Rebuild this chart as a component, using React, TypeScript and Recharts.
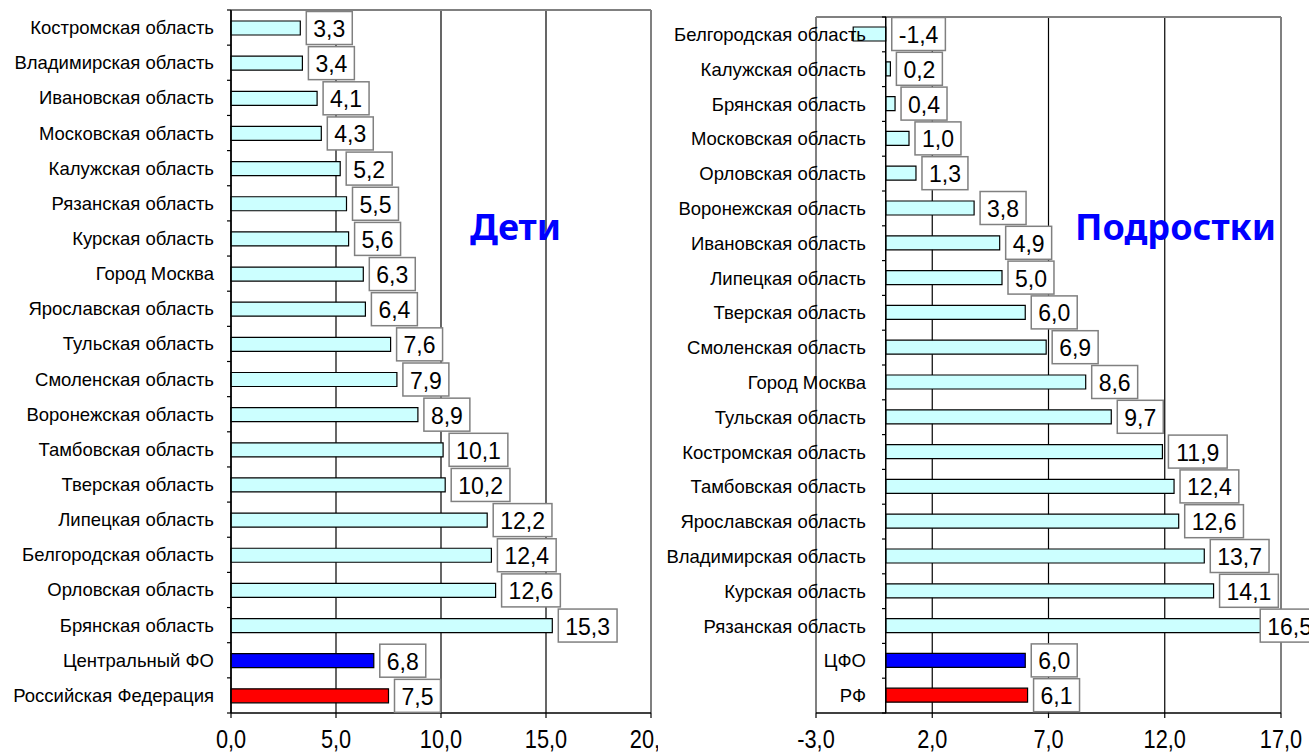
import { Bar, BarChart, CartesianGrid, Cell, LabelList, ReferenceLine, XAxis, YAxis } from "recharts";

const childRegions = [
  "Костромская область",
  "Владимирская область",
  "Ивановская область",
  "Московская область",
  "Калужская область",
  "Рязанская область",
  "Курская область",
  "Город Москва",
  "Ярославская область",
  "Тульская область",
  "Смоленская область",
  "Воронежская область",
  "Тамбовская область",
  "Тверская область",
  "Липецкая область",
  "Белгородская область",
  "Орловская область",
  "Брянская область",
  "Центральный ФО",
  "Российская Федерация",
];
const childValues = [3.3, 3.4, 4.1, 4.3, 5.2, 5.5, 5.6, 6.3, 6.4, 7.6, 7.9, 8.9, 10.1, 10.2, 12.2, 12.4, 12.6, 15.3, 6.8, 7.5];
const childTicks = [0, 5, 10, 15, 20];

const teenRegions = [
  "Белгородская область",
  "Калужская область",
  "Брянская область",
  "Московская область",
  "Орловская область",
  "Воронежская область",
  "Ивановская область",
  "Липецкая область",
  "Тверская область",
  "Смоленская область",
  "Город Москва",
  "Тульская область",
  "Костромская область",
  "Тамбовская область",
  "Ярославская область",
  "Владимирская область",
  "Курская область",
  "Рязанская область",
  "ЦФО",
  "РФ",
];
const teenValues = [-1.4, 0.2, 0.4, 1.0, 1.3, 3.8, 4.9, 5.0, 6.0, 6.9, 8.6, 9.7, 11.9, 12.4, 12.6, 13.7, 14.1, 16.5, 6.0, 6.1];
const teenTicks = [-3, 2, 7, 12, 17];

const FONT = "'Liberation Sans', Arial, sans-serif";
const fmt = (v: number) => v.toFixed(1).replace(".", ",");

function textWidth(s: string, size: number) {
  let w = 0;
  for (const ch of s) w += ch === "," ? 0.278 : ch === "-" ? 0.333 : 0.556;
  return w * size;
}

function ValueBox(props: any) {
  const { x, y, width, height, value, chartWidth } = props;
  const right = Math.max(x, x + width);
  const text = fmt(Number(value));
  const w = textWidth(text, 23) + 14;
  // like Excel, keep the label box from running far past the chart edge
  const bx = Math.min(right + 6, chartWidth - w + 10);
  const cy = y + height / 2;
  return (
    <g>
      <rect x={bx} y={cy - 16.5} width={w} height={33} fill="#fff" stroke="#808080" strokeWidth={1.5} />
      <text x={bx + w / 2} y={cy + 1} textAnchor="middle" dominantBaseline="central" fontSize={23} fontFamily={FONT} fill="#000">
        {text}
      </text>
    </g>
  );
}

function CategoryTick(props: any) {
  const { x, y, payload, index, shift, gap, band } = props;
  const ax = x + shift;
  return (
    <g>
      <text x={ax - gap} y={y} textAnchor="end" dominantBaseline="central" fontSize={18.5} fontFamily={FONT} fill="#000">
        {payload.value}
      </text>
      <line x1={ax - 4} x2={ax} y1={y + band / 2} y2={y + band / 2} stroke="#000" strokeWidth={1.2} />
      {index === 0 && <line x1={ax - 4} x2={ax} y1={y - band / 2} y2={y - band / 2} stroke="#000" strokeWidth={1.2} />}
    </g>
  );
}

function NumberTick(props: any) {
  const { x, y, payload } = props;
  return (
    <text
      transform={`translate(${x},${y + 30}) scale(0.87,1)`}
      textAnchor="middle"
      fontSize={25}
      fontFamily={FONT}
      fill="#000"
    >
      {fmt(Number(payload.value))}
    </text>
  );
}

type PanelProps = {
  regions: string[];
  values: number[];
  ticks: number[];
  width: number;
  height: number;
  top: number;
  right: number;
  yWidth: number;
  shift: number;
  gap: number;
  leftBorder: boolean;
};

function Panel({ regions, values, ticks, width, height, top, right, yWidth, shift, gap, leftBorder }: PanelProps) {
  const data = regions.map((name, i) => ({ name, value: values[i] }));
  const xHeight = 42;
  const band = (height - top - xHeight) / regions.length;
  const n = data.length;
  return (
    <BarChart width={width} height={height} data={data} layout="vertical" margin={{ top, right, bottom: 0, left: 0 }} barSize={14}>
      <CartesianGrid horizontal={false} stroke="#000" strokeWidth={1.2} />
      <CartesianGrid
        stroke="#808080"
        strokeWidth={2}
        horizontalCoordinatesGenerator={({ offset }: any) => [offset.top]}
        verticalCoordinatesGenerator={({ offset }: any) =>
          leftBorder ? [offset.left, offset.left + offset.width] : [offset.left + offset.width]
        }
      />
      <XAxis
        type="number"
        domain={[ticks[0], ticks[ticks.length - 1]]}
        ticks={ticks}
        interval={0}
        height={xHeight}
        axisLine={{ stroke: "#000", strokeWidth: 1.5 }}
        tickLine={{ stroke: "#000", strokeWidth: 1.2 }}
        tickSize={5}
        tickMargin={0}
        tick={<NumberTick />}
      />
      <YAxis
        type="category"
        dataKey="name"
        width={yWidth}
        interval={0}
        tickSize={0}
        tickMargin={0}
        axisLine={shift === 0 ? { stroke: "#000", strokeWidth: 1.5 } : false}
        tickLine={false}
        tick={<CategoryTick shift={shift} gap={gap} band={band} />}
      />
      {shift !== 0 && <ReferenceLine x={0} stroke="#000" strokeWidth={1.5} />}
      <Bar dataKey="value" stroke="#000" strokeWidth={1.2} isAnimationActive={false}>
        {data.map((_, i) => (
          <Cell key={i} fill={i === n - 1 ? "#FF0000" : i === n - 2 ? "#0000FF" : "#CCFFFF"} />
        ))}
        <LabelList dataKey="value" content={<ValueBox chartWidth={width} />} />
      </Bar>
    </BarChart>
  );
}

const titleStyle = {
  position: "absolute" as const,
  fontFamily: "'Noto Sans', sans-serif",
  fontWeight: 700,
  fontSize: 36,
  lineHeight: "36px",
  color: "#0000FF",
  whiteSpace: "nowrap" as const,
};

export default function App() {
  return (
    <div style={{ position: "relative", width: 1309, height: 755, background: "#fff", overflow: "hidden" }}>
      <style>{"body{margin:0}"}</style>
      <div style={{ position: "absolute", left: 0, top: 0 }}>
        <Panel
          regions={childRegions}
          values={childValues}
          ticks={childTicks}
          width={660}
          height={755}
          top={10}
          right={9}
          yWidth={231}
          shift={0}
          gap={17}
          leftBorder={false}
        />
      </div>
      <div style={{ position: "absolute", left: 658, top: 0, background: "#fff" }}>
        <Panel
          regions={teenRegions}
          values={teenValues}
          ticks={teenTicks}
          width={651}
          height={755}
          top={17}
          right={28}
          yWidth={158}
          shift={70}
          gap={20}
          leftBorder={true}
        />
      </div>
      <div style={{ ...titleStyle, left: 470, top: 209 }}>Дети</div>
      <div style={{ ...titleStyle, left: 1075, top: 209 }}>Подростки</div>
    </div>
  );
}
